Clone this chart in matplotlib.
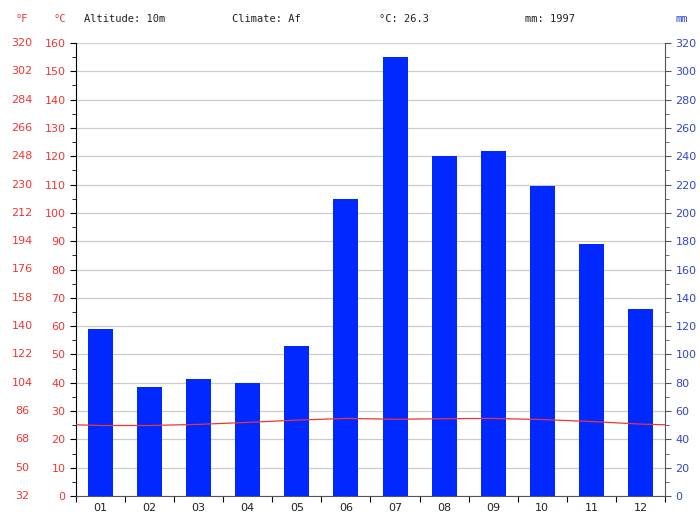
import numpy as np
import matplotlib.pyplot as plt
from matplotlib.ticker import MultipleLocator, FixedLocator, NullFormatter
from matplotlib.transforms import blended_transform_factory

# Datos climáticos
meses = ['01', '02', '03', '04', '05', '06', '07', '08', '09', '10', '11', '12']
precip_mm = [118, 77, 83, 80, 106, 210, 310, 240, 244, 219, 178, 132]
temp_c = [24.9, 24.9, 25.3, 26.0, 26.8, 27.4, 27.1, 27.3, 27.4, 27.0, 26.3, 25.4]
altitud = 'Altitude: 10m'
clima = 'Climate: Af'
temp_media = '°C: 26.3'
precip_total = 'mm: 1997'

rojo = '#ee3535'
azul_txt = '#3344cc'
azul_barra = '#0028ff'

fig = plt.figure(figsize=(7, 5.12), dpi=100)
ax = fig.add_axes([76 / 700, 16 / 512, 589 / 700, 453 / 512])
ax2 = ax.twinx()

x = np.arange(1, 13)

# Barras de precipitación (eje mm)
ax2.bar(x, precip_mm, width=0.51, color=azul_barra, zorder=2)
ax2.set_ylim(0, 320)
ax2.yaxis.set_major_locator(MultipleLocator(20))
ax2.yaxis.set_minor_locator(MultipleLocator(10))
ax2.tick_params(axis='y', labelsize=8, length=4, width=0.8, colors='#555555')
ax2.tick_params(axis='y', labelcolor=azul_txt)
ax2.tick_params(axis='y', which='minor', length=3, colors='#555555')

# Temperatura (eje °C), ciclo anual cerrado en los bordes
xt = np.concatenate([[0], x, [13]])
yt = np.concatenate([[temp_c[-1]], temp_c, [temp_c[0]]])
ax3 = ax.twinx()
ax3.set_ylim(0, 160)
ax3.plot(xt, yt, color=rojo, linewidth=0.9, zorder=3)
ax3.axis('off')
ax3.set_xlim(0.5, 12.5)

ax.set_ylim(0, 160)
ax.set_xlim(0.5, 12.5)
ax2.set_xlim(0.5, 12.5)
ax.yaxis.set_major_locator(MultipleLocator(10))
ax.yaxis.set_minor_locator(MultipleLocator(5))
ax.grid(axis='y', color='#cccccc', linewidth=0.9, zorder=0)
ax.set_axisbelow(True)
ax.tick_params(axis='y', labelcolor=rojo, labelsize=8, length=4, width=0.8)
ax.tick_params(axis='y', which='minor', length=3)

ax.set_xticks(x)
ax.set_xticklabels(meses)
ax.xaxis.set_minor_locator(FixedLocator(np.arange(0.5, 13, 1)))
ax.xaxis.set_minor_formatter(NullFormatter())
ax.tick_params(axis='x', which='major', length=0, labelsize=8, labelcolor='#222222', pad=5)
ax.tick_params(axis='x', which='minor', length=4, width=0.8)

ax.spines['top'].set_visible(False)
ax2.spines['top'].set_visible(False)
ax2.spines['left'].set_visible(False)
ax2.spines['bottom'].set_visible(False)
ax.spines['right'].set_visible(False)
ax2.spines['right'].set_color('#555555')
ax.spines['bottom'].set_color('#555555')

# Columna de °F
trans = blended_transform_factory(fig.transFigure, ax.transData)
for c in range(0, 161, 10):
    ax.text(22 / 700, c, str(int(c * 1.8 + 32)), transform=trans, color=rojo,
            fontsize=8, ha='center', va='center')

# Encabezado
mono = 'DejaVu Sans Mono'
fy = 1 - 19 / 512
fig.text(22 / 700, fy, '°F', color=rojo, fontsize=7.5, ha='center', va='center', family=mono)
fig.text(60 / 700, fy, '°C', color=rojo, fontsize=7.5, ha='center', va='center', family=mono)
fig.text(84 / 700, fy, altitud, fontsize=7.5, va='center', family=mono, color='#222222')
fig.text(232 / 700, fy, clima, fontsize=7.5, va='center', family=mono, color='#222222')
fig.text(379 / 700, fy, temp_media, fontsize=7.5, va='center', family=mono, color='#222222')
fig.text(525 / 700, fy, precip_total, fontsize=7.5, va='center', family=mono, color='#222222')
fig.text(682 / 700, fy, 'mm', color=azul_txt, fontsize=7.5, ha='center', va='center', family=mono)

plt.savefig('out.png', dpi=100)
